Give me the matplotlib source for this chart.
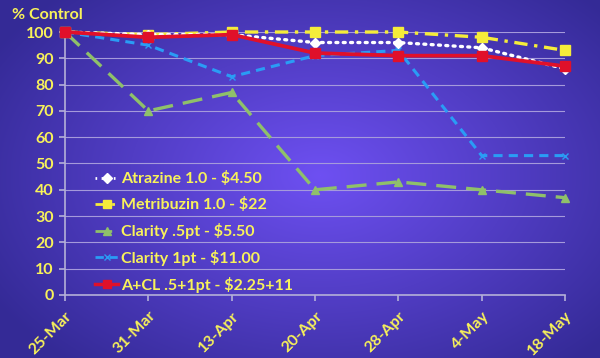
import matplotlib.pyplot as plt
import numpy as np
from matplotlib.lines import Line2D

# data
dates = ["25-Mar", "31-Mar", "13-Apr", "20-Apr", "28-Apr", "4-May", "18-May"]
atrazine = [100, 99, 99, 96, 96, 94, 86]
metribuzin = [100, 99, 100, 100, 100, 98, 93]
clarity_half = [100, 70, 77, 40, 43, 40, 37]
clarity_one = [100, 95, 83, 91, 93, 53, 53]
a_cl = [100, 98, 99, 92, 91, 91, 87]

labels = ["Atrazine 1.0 - $4.50", "Metribuzin 1.0 - $22", "Clarity .5pt - $5.50",
          "Clarity 1pt - $11.00", "A+CL .5+1pt - $2.25+11"]

yellow = "#F8F25A"
fnt = "Lato"

fig = plt.figure(figsize=(6, 3.58), dpi=100)

# purple radial gradient background
bg = fig.add_axes([0, 0, 1, 1])
yy, xx = np.mgrid[0:358, 0:600]
r = np.sqrt(((xx - 320) / 380.0) ** 2 + ((yy - 175) / 250.0) ** 2)
r = np.clip(r, 0, 1)
c_in = np.array([0x6E, 0x50, 0xF2]) / 255.0
c_out = np.array([0x34, 0x2A, 0x96]) / 255.0
img = c_in[None, None, :] * (1 - r[..., None]) + c_out[None, None, :] * r[..., None]
bg.imshow(img, aspect="auto", extent=[0, 1, 0, 1])
bg.axis("off")

ax = fig.add_axes([0.1083, 0.176, 0.8334, 0.7346])
ax.patch.set_alpha(0)
x = np.arange(len(dates))

ax.plot(x, clarity_half, color="#8FC06A", lw=2.4, dashes=(6, 3), marker="^", ms=6,
        clip_on=False, zorder=3)
ax.plot(x, clarity_one, color="#2A9CF5", lw=2.2, dashes=(3, 2), marker="x", ms=5,
        clip_on=False, zorder=3)
ax.plot(x, metribuzin, color="#F5EC3A", lw=2.4, dashes=(4, 2, 1, 2), marker="s", ms=7,
        clip_on=False, zorder=4)
ax.plot(x, atrazine, color="white", lw=2.4, linestyle=(0, (0.6, 1.6)),
        dash_capstyle="round", marker="D", ms=5, clip_on=False, zorder=5)
ax.plot(x, a_cl, color="#E0102A", lw=2.7, marker="s", ms=7, clip_on=False, zorder=6)

ax.set_xlim(0, len(dates) - 1)
ax.set_ylim(0, 100)
ax.set_yticks(range(0, 101, 10))
ax.set_xticks(x)
ax.set_xticklabels(dates, rotation=45, ha="right", rotation_mode="anchor")
ax.yaxis.grid(True, color="#A59ADB", lw=0.8)
ax.set_axisbelow(True)
for s in ["top", "right"]:
    ax.spines[s].set_visible(False)
for s in ["left", "bottom"]:
    ax.spines[s].set_color("#B4B0D8")
    ax.spines[s].set_linewidth(1.2)
ax.tick_params(axis="y", colors="#B4B0D8", length=4, width=1.2, pad=4)
ax.tick_params(axis="x", colors="#B4B0D8", length=4, width=1.2, pad=6)
for t in ax.get_yticklabels() + ax.get_xticklabels():
    t.set_color(yellow)
    t.set_fontweight("bold")
    t.set_fontfamily(fnt)
    t.set_fontsize(11.5)

fig.text(0.02, 0.958, "% Control", color=yellow, fontsize=11.5, fontweight="bold",
         family=fnt, ha="left", va="center")

handles = [
    Line2D([], [], color="white", lw=2, linestyle=(0, (0.6, 1.6)), marker="D", ms=5),
    Line2D([], [], color="#F5EC3A", lw=2, dashes=(4, 2, 1, 2), marker="s", ms=6),
    Line2D([], [], color="#8FC06A", lw=2, dashes=(6, 3), marker="^", ms=6),
    Line2D([], [], color="#2A9CF5", lw=2, dashes=(3, 2), marker="x", ms=5),
    Line2D([], [], color="#E0102A", lw=2.5, marker="s", ms=6),
]
leg = ax.legend(handles, labels, loc="upper left", bbox_to_anchor=(0.06, 0.47),
                frameon=False, borderpad=0, borderaxespad=0,
                handlelength=1.45, handletextpad=0.2, labelspacing=0.68,
                prop={"family": fnt, "weight": "bold", "size": 11.5})
for t in leg.get_texts():
    t.set_color(yellow)

fig.savefig("out.png", dpi=100)
